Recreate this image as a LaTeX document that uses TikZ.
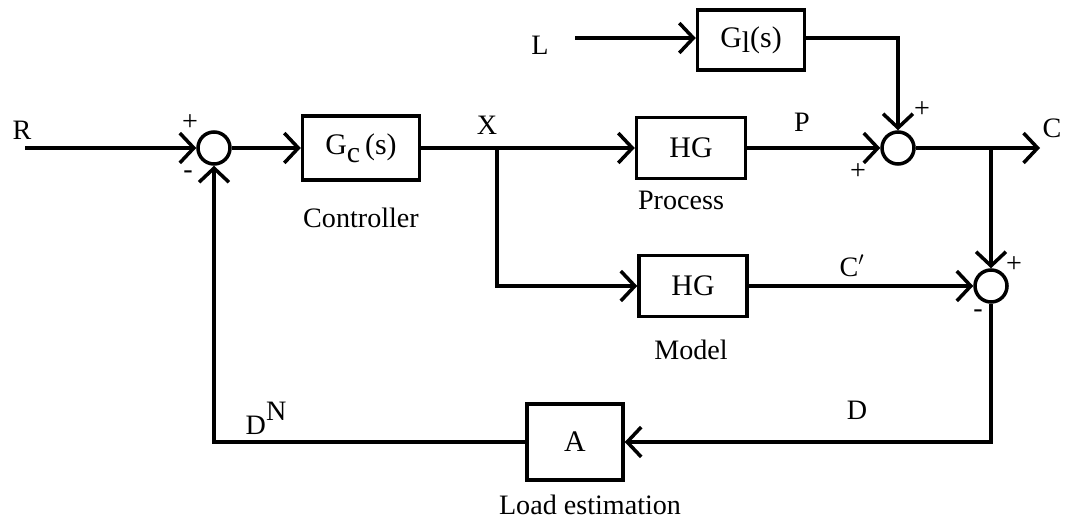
\documentclass[tikz,border=0pt]{standalone}
\usepackage{fontspec}
\setmainfont{Liberation Serif}
\usepackage{tikz}
\usetikzlibrary{arrows.meta, positioning, calc}
\tikzstyle{block}  = [rectangle, draw=black, line width=2pt, minimum width=2.2cm,
                      minimum height=1.22cm, text centered, font=\fontsize{17}{19}\selectfont]
\tikzstyle{sum}    = [circle, draw=black, line width=2pt, minimum size=0.64cm, inner sep=0pt]
\tikzstyle{arrow}  = [line width=2pt, -{Straight Barb[length=8pt,width=17pt]}]
\tikzstyle{line}   = [line width=2pt]
\tikzstyle{lbl}    = [font=\fontsize{16}{18}\selectfont, inner sep=1pt]

\begin{document}
\begin{tikzpicture}[x=0.02cm, y=-0.02cm]
  \useasboundingbox (0,0) rectangle (1084,523);

  % --- Blocks ---
  \node[block, minimum width=2.34cm, minimum height=1.28cm] (gc) at (361,148) {G\raisebox{-0.6ex}{c}\,(s)};
  \node[block, minimum width=2.18cm] (proc)  at (691,148) {HG};
  \node[block, minimum width=2.16cm] (model) at (693,286) {HG};
  \node[block, minimum width=2.14cm, minimum height=1.2cm] (g1) at (751,40) {G\raisebox{-0.4ex}{l}(s)};
  \node[block, minimum width=1.92cm, minimum height=1.52cm] (est) at (575,442) {A};

  % --- Summing junctions ---
  \node[sum] (s1) at (214,148) {};
  \node[sum] (s2) at (898,148) {};
  \node[sum] (s3) at (991,286) {};

  % --- Points ---
  \coordinate (rin)  at (25,148);
  \coordinate (lin)  at (575,38);
  \coordinate (xb)   at (497,148);
  \coordinate (cb)   at (991,148);
  \coordinate (cout) at (1040,148);

  % Forward path
  \draw[arrow] (rin) -- (s1);
  \draw[arrow] (s1) -- (gc);
  \draw[line]  (gc) -- (xb);
  \draw[arrow] (xb) -- (proc);
  \draw[arrow] (proc) -- (s2);
  \draw[arrow] (s2) -- (cout);
  \draw[arrow] (lin) -- (g1.west |- lin);
  \draw[arrow] (g1.east |- lin) -| (s2);

  % Model path
  \draw[arrow] (xb) |- (model);
  \draw[arrow] (model) -- (s3);
  \draw[arrow] (cb) -- (s3);

  % Feedback
  \draw[arrow] (s3) |- (est);
  \draw[arrow] (est) -| (s1);

  % Signals
  \node[lbl] (rl)  at (22,130)  {R};
  \node[lbl] (ll)  at (540,45)  {L};
  \node[lbl] (xl)  at (487,125) {X};
  \node[lbl] (pl)  at (802,122) {P};
  \node[lbl] (cl)  at (1052,128) {C};
  \node[lbl] (cpl) at (852,266) {C$'$};
  \node[lbl] (dl)  at (857,410) {D};
  \node[lbl] (dnl) at (266,418) {D\raisebox{1.1ex}{N}};

  % Captions
  \node[lbl] (capc) at (361,218) {Controller};
  \node[lbl] (capp) at (681,200) {Process};
  \node[lbl] (capm) at (691,350) {Model};
  \node[lbl] (cape) at (590,505) {Load estimation};

  % Signs
  \node[lbl] (p1) at (190,123)  {+};
  \node[lbl] (m1) at (188,175)  {-};
  \node[lbl] (p2) at (922,110)  {+};
  \node[lbl] (p3) at (858,172)  {+};
  \node[lbl] (p4) at (1014,265) {+};
  \node[lbl] (m3) at (978,314)  {-};
\end{tikzpicture}
\end{document}
